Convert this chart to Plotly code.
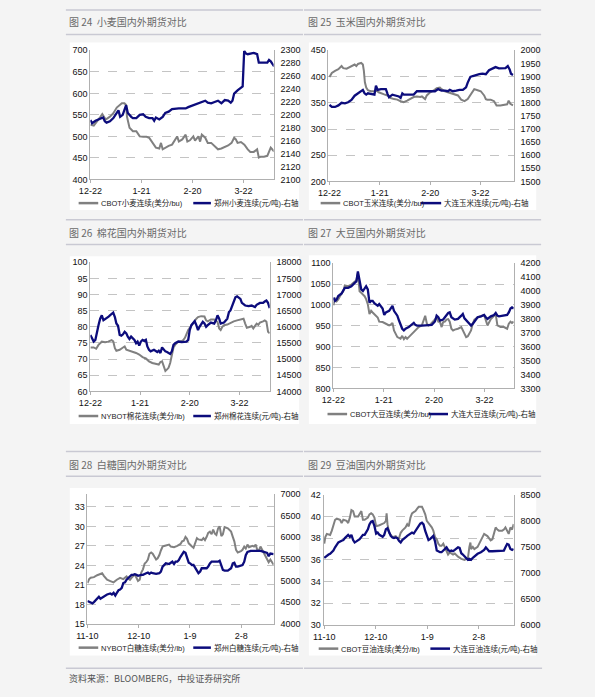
import plotly.graph_objects as go

W, H = 595, 697

# ---------------- data (x = days since first tick date) ----------------
ticks_dec = ["12-22", "1-21", "2-20", "3-22"]
ticks_nov = ["11-10", "12-10", "1-9", "2-8"]
tick_days = [0, 30, 60, 90]

# Fig 24 wheat
wheat_cbot_d = [0,2,6,7,9,11.5,13.5,15.5,18.5,20,21,21.5,23,25,27,29,31,33,34.5,36.5,38.5,40.5,41.5,42.5,44,46,48,50,51,52,54,56,57,58.5,60.5,61.5,63.5,64.5,65.5,67.5,69,71,73,75,77,79,81,83,84.5,85.5,86.5,88.5,90.5,92.5,94,96,98,99,100,102,104,106,107,108]
wheat_cbot = [527,525,546,552,539,546,554,567,577,577,573,546,520,512,512,500,499,499,497,485,474,472,485,470,474,478,481,493,500,488,493,504,488,491,500,490,500,488,504,497,485,485,478,470,472,476,479,485,497,493,485,487,481,470,464,464,470,451,453,453,455,474,470,465]
wheat_zz_d = [0,1,3,6,7.5,8.5,9.5,11.5,13.5,15.5,16.5,17.5,19,21,22,24,25,27,29,31,32.5,34.5,36.5,37.5,38.5,40.5,42.5,44,46,48,50,52,54,56,57.5,59.5,61.5,63.5,65.5,67.5,69,71,73,75,77,79,81,82.5,83.5,84.5,86.5,88.5,89.5,90.4,91.5,92.5,94,96,98,99,102,104,105,106,108]
wheat_zz = [2192,2187,2191,2195,2196,2190,2188,2190,2195,2203,2207,2197,2200,2215,2203,2197,2195,2195,2200,2201,2197,2195,2195,2191,2196,2193,2197,2203,2205,2209,2210,2210,2210,2210,2212,2214,2215,2218,2219,2222,2219,2218,2220,2222,2218,2223,2222,2219,2222,2233,2238,2243,2244,2299,2295,2294,2295,2296,2294,2281,2281,2281,2285,2283,2275]

# Fig 25 corn
corn_cbot_d = [0,1.4,3.3,5.3,7.2,8.2,10.2,12.1,14.1,15,16,17,18.9,19.9,20.5,21.1,21.9,22.9,23.8,24.8,26.8,28.1,29.3,30.7,32.6,34.6,36.5,38.5,40.4,42.4,44.3,46.3,48.2,50.2,52.1,54.1,55.1,57,58,60,61.9,63.9,65.8,66.8,68.8,70.7,72.7,74.6,76.6,78.5,80.5,82.4,84.4,86.3,88.3,90.2,92.2,93.2,94.1,96.1,98.1,99.6,101.9,103.9,105.9,106.8,107.8,109.4]
corn_cbot = [399,407,411,414,420,416,415,418,420,423,420,424,426,423,411,389,379,374,373,372,372,373,370,368,366,364,359,357,356,353,351,354,357,361,362,361,362,357,364,370,373,378,379,376,372,370,368,367,364,356,353,357,367,376,374,372,364,357,356,356,353,345,345,346,347,354,348,345]
corn_dl_d = [0,1.4,3.3,5.3,7.2,9.2,11.1,13.1,15,17,18.9,19.9,20.9,21.9,22.9,24.8,26.8,27.7,28.7,30.7,33.6,34.6,35.5,37.5,39.5,41.4,42.4,43.4,44.3,46.3,50.2,52.1,56.1,60,62.9,64.8,66.8,68.8,70.7,71.7,73.6,75.6,77.5,79.5,81.4,82.4,84,85.4,87.3,89.3,91.2,93.2,95.1,97.1,99,101,102.9,104.9,106.3,107.4,108.2,109.4]
corn_dl = [1792,1784,1784,1790,1800,1798,1802,1811,1827,1836,1846,1849,1836,1831,1836,1834,1831,1865,1849,1852,1852,1834,1821,1831,1827,1824,1819,1836,1831,1831,1831,1844,1844,1844,1844,1852,1846,1846,1844,1849,1844,1846,1849,1849,1859,1877,1899,1902,1906,1909,1911,1909,1924,1931,1936,1931,1932,1932,1940,1927,1911,1906]

# Fig 26 cotton
cotton_ny_d = [0,2,3.5,4.9,6.9,8.9,10.8,12.8,13.8,14.8,15.7,17.7,19.7,20.7,21.7,23.6,25.6,27.6,29.5,31.5,33.5,35.4,37.4,39.4,41.3,42.3,43.3,44.3,45.3,46.3,47.2,48.2,49.2,50.2,51.2,52.2,53.1,55.1,56.1,57.1,58.1,59.1,60,61,62,63,64,65,66.9,68.9,69.9,70.9,72.8,74.8,76.8,77.8,78.7,79.7,80.7,82.7,84.6,86.6,88.6,90.6,92.5,93.5,94.5,96.5,97.4,98.4,99.4,100.4,101.4,102.4,104.3,105.3,106.3,107.3,108.3]
cotton_ny = [73.6,73.6,73.2,74.4,75.4,75.2,75.4,75.9,75.5,73.4,72.6,72.9,73.6,73.9,72.9,72.6,72.2,71.9,71.4,70.6,70.2,69.3,68.8,68.5,68.3,69.1,69.3,67.8,66.3,66.8,67.3,68.8,71.4,73.6,74.4,74.9,75.4,75.6,75.9,76.6,78,79,79.7,80.5,81,81.7,82.5,83,83.3,83.2,82,81.7,82.3,82.3,81.5,79.5,79,80,80.5,80.7,81.3,81.7,82,82.3,82.5,81,79.7,80,80.3,79.5,80.5,81,80.6,81.3,81.7,82,81.6,78.5,78]
cotton_zz_d = [0,1,2,3,3.9,4.9,5.9,6.9,7.9,9.8,10.8,11.8,12.8,13.8,14.8,15.7,16.7,17.7,18.7,19.7,20.7,21.7,22.6,23.6,24.6,25.6,26.6,27.6,28.5,29.5,30.5,31.5,32.5,33.5,34.4,35.4,36.4,38.4,39.4,40.4,41.3,42.3,43.3,44.3,45.3,46.3,47.2,48.2,49.2,50.2,51.2,53.1,55.1,57.1,58.1,59.1,60,61,62,63,64,65,65.9,66.9,67.9,68.9,69.9,70.9,72.8,74.8,75.8,76.8,77.8,78.7,80.7,82.7,83.7,84.6,85.6,86.6,87.6,88.6,89.6,90.6,91.5,93.5,95.5,97.4,99.4,100.4,102.4,104.3,105.3,106.3,107.3,108.3]
cotton_zz = [15747,15625,15544,15595,15848,16051,16254,16356,16203,16254,16305,16356,16406,16437,16305,16102,16031,15747,15727,15767,15848,15798,15696,15625,15696,15645,15595,15493,15544,15422,15544,15595,15565,15595,15391,15290,15239,15290,15260,15219,15260,15188,15361,15290,15239,15219,15188,15158,15239,15442,15493,15544,15524,15524,15544,15595,15899,16051,16132,16173,16051,15899,16000,16102,16153,16102,16000,16051,16132,16102,16203,16356,16254,16102,16132,16254,16457,16508,16660,16812,16914,16944,16914,16863,16741,16660,16640,16660,16609,16680,16741,16741,16782,16812,16741,16579]

# Fig 27 soybean
soy_cbot_d = [0,1,2,2.9,3.9,5.9,6.8,8.8,10.7,12.7,13.7,14.6,15.6,16.6,17.6,18.6,19.5,20.5,21.5,22.5,23.4,24.4,25.4,26.4,27.3,29.3,31.3,33.2,34.2,35.2,36.1,37.1,38.1,39.1,40,41,42,43,43.9,44.9,45.9,46.9,47.9,48.8,49.8,50.8,52.7,54.7,55.7,56.6,57.6,58.6,59.6,60.5,61.5,62.5,63.5,64.5,65.4,66.4,67.4,68.4,69.3,70.3,71.3,72.3,74.2,76.2,78.1,79.1,80.1,81.1,82,83,84,85.9,87.9,89.8,91.8,92.8,93.8,95.7,96.7,97.7,99.6,101.6,103.5,104.5,105.5,106.4,107.4]
soy_cbot = [999,1017,1009,1013,1021,1033,1047,1045,1049,1057,1059,1076,1033,1029,1025,1021,1014,1002,978,986,982,978,974,970,960,959,955,951,953,957,939,931,923,921,919,926,918,923,919,923,927,933,937,939,943,947,951,974,955,951,953,957,960,966,970,960,959,947,959,960,965,966,960,943,939,941,943,947,931,923,925,931,939,955,965,970,974,976,951,957,966,974,978,951,947,947,943,955,960,957,960]
soy_dl_d = [0,1,2,2.9,4.9,5.9,6.8,8.8,10.7,12.7,13.7,14.6,15.6,16.6,17.6,18.6,19.5,20.5,21.5,22.5,23.4,24.4,25.4,26.4,27.3,29.3,30.3,31.3,33.2,34.2,35.2,36.1,37.1,38.1,39.1,40,41,42,43,44.9,46.9,47.9,48.8,49.8,52.7,54.7,56.6,58.6,60.5,61.5,62.5,63.5,65.4,66.4,68.4,69.3,70.3,72.3,74.2,76.2,77.1,78.1,80.1,81.1,82,83,84,85.9,87.9,89.8,90.8,91.8,93.8,95.7,96.7,97.7,98.6,100.6,102.5,103.5,104.5,105.5,106.4,107.4]
soy_dl = [3953,3929,3941,3964,3983,4000,4023,4023,4035,4059,4070,4141,4059,4012,4000,4023,4035,4012,3917,3929,3929,3913,3906,3894,3906,3875,3828,3847,3858,3875,3894,3858,3842,3823,3788,3752,3729,3717,3729,3741,3764,3771,3757,3752,3752,3752,3752,3757,3781,3823,3812,3788,3795,3812,3842,3847,3812,3795,3800,3823,3835,3804,3781,3764,3752,3764,3781,3812,3818,3828,3812,3800,3818,3828,3842,3823,3818,3823,3828,3828,3847,3875,3882,3875]

# Fig 28 sugar
sugar_ny_d = [0,1,1.9,3.8,5.7,6.7,8.6,9.6,11.5,13.4,15.3,17.2,19.1,21,22.9,23.9,24.9,25.8,27.7,28.7,29.6,30.6,31.5,32.5,33.5,34.4,35.4,36.3,37.3,38.2,39.2,40.2,41.1,42.1,43,44,44.9,46.8,47.8,48.8,50.7,52.6,54.5,55.4,56.4,57.4,58.3,59.3,60.2,61.2,62.1,63.1,64.1,65,66.9,67.9,68.8,69.8,70.7,71.7,72.7,73.6,74.6,75.5,76.5,77.4,78.4,79.3,80.3,82.2,84.1,85.1,86,87,88,89.9,90.8,91.8,92.7,93.7,94.6,95.6,96.6,97.5,98.5,99.4,100.4,101.3,102.3,103.3,104.2,105.2,106.1,107.1,108,109]
sugar_ny = [21.3,21.9,22.1,22.2,22.5,22.6,22.8,22.4,21.8,21.6,21.4,21.8,22.1,21.9,22.3,22.0,21.8,22.1,22.6,22.1,21.6,21.8,22.9,23.4,24.3,24.5,24.9,25.8,26.0,25.8,25.3,24.9,25.1,25.6,26.3,26.9,27.0,27.1,27.2,26.9,26.8,27.0,27.3,27.7,27.8,28.4,28.1,27.4,27.1,26.9,26.7,27.4,28.2,28.0,27.9,28.2,27.9,28.4,29.0,29.2,28.8,29.5,28.9,28.7,29.7,30.0,28.5,28.8,29.9,29.7,29.2,28.4,27.7,26.4,26.0,26.2,26.4,26.9,26.6,27.2,26.8,26.9,27.0,26.9,27.2,26.4,26.3,26.9,26.4,26.0,25.6,24.9,24.5,24.9,24.4,24.1]
sugar_zz_d = [0,1.9,2.9,3.8,4.8,5.7,6.7,7.6,8.6,9.6,10.5,11.5,13.4,14.3,15.3,16.3,17.2,18.2,19.1,20.1,21,22,22.9,23.9,24.9,25.8,26.8,27.7,28.7,29.6,31.5,32.5,34.4,35.4,36.3,37.3,38.2,40.2,42.1,43,44,44.9,45.9,47.8,48.8,49.7,50.7,51.6,52.6,53.5,54.5,55.4,56.4,57.4,58.3,59.3,60.2,61.2,62.1,63.1,64.1,65,66,66.9,68.8,69.8,70.7,71.7,72.7,74.6,76.5,77.4,78.4,79.3,80.3,82.2,84.1,85.1,86,87,88,89.9,90.8,91.8,92.7,93.7,95.6,97.5,99.4,101.3,103.3,105.2,106.1,107.1,109]
sugar_zz = [4529,4506,4476,4506,4552,4605,4627,4582,4605,4642,4657,4680,4703,4680,4718,4657,4718,4778,4793,4831,4945,4960,5020,5058,5096,5134,5134,5149,5134,5111,5134,5134,5171,5186,5156,5186,5171,5156,5171,5209,5322,5360,5398,5383,5413,5436,5383,5436,5436,5474,5549,5610,5663,5640,5549,5413,5398,5360,5360,5307,5232,5171,5209,5285,5285,5285,5322,5398,5436,5436,5436,5459,5360,5247,5232,5232,5285,5398,5413,5322,5322,5338,5360,5436,5587,5663,5685,5685,5685,5685,5663,5640,5564,5625,5610]

# Fig 29 soybean oil
oil_cbot_d = [0,0.6,1.5,3.4,4.4,5.3,6.3,7.3,9.2,10.1,11.1,13,13.9,14.9,15.8,16.8,17.7,19.7,20.6,21.6,22.5,23.5,25.4,26.3,27.3,28.2,29.2,30.2,32.1,34,34.9,35.9,36.3,36.8,37.8,38.7,39.7,41.6,42.6,43.5,44.5,45.4,47.3,48.3,49.2,50.2,51.1,52.1,53.1,54,55,55.9,56.9,57.8,58.8,59.7,60.7,61.6,62.6,63.5,64.5,65.5,66.4,67.4,68.3,69.3,70.2,71.2,72.1,73.1,74,75,76,77.9,79.8,81.7,82.6,83.6,84.5,85.1,85.5,86.5,87.4,89.3,91.2,92.2,93.1,95,96,96.9,97.9,98.9,99.8,100.8,101.7,103.6,104.6,105.5,106.5,107.4,108.4,109.4,110.3]
oil_cbot = [37.5,38.1,38.4,38.3,38.7,39.1,39.7,39.8,39.7,39.4,39.7,39.6,39.4,39.9,40.6,40.5,40.0,40.0,40.2,40.5,39.7,39.7,39.9,40.2,40.3,40.2,39.9,39.1,39.2,39.3,39.4,39.6,40.3,39.3,38.5,38.3,38.1,38.2,38.0,38.0,38.5,38.7,39.0,39.3,39.1,39.9,40.3,40.4,40.5,40.7,40.9,40.9,40.9,40.6,40.2,39.6,39.4,39.2,39.0,38.7,38.1,37.9,37.5,37.3,37.3,37.5,37.2,36.9,36.5,36.7,36.6,36.5,36.6,36.3,36.1,36.0,36.1,36.1,37.2,37.6,37.0,37.2,37.0,37.2,37.8,38.2,38.4,38.2,38.0,37.8,37.9,38.5,39.0,38.8,38.7,38.7,38.8,39.0,38.7,38.4,39.0,38.8,39.3]
oil_dl_d = [0,1.5,2.5,3.4,5.3,6.3,7.3,8.2,10.1,11.1,12,13,13.9,14.9,15.8,16.8,17.7,18.7,19.7,20.6,21.6,22.5,23.5,24.4,25.4,26.3,27.3,28.2,29.2,30.2,31.1,32.1,33,34,34.9,35.9,36.8,37.8,38.7,39.7,40.6,41.6,42.6,43.5,44.5,45.4,46.4,47.3,48.3,49.2,51.1,52.1,53.1,54,55,55.9,56.9,57.8,58.8,59.7,60.7,61.6,62.6,63.5,64.5,65.5,66.4,67.4,68.3,69.3,70.2,71.2,72.1,73.1,74,75,76,76.9,77.9,78.8,79.8,80.7,81.7,82.6,83.6,84.5,85.5,86.5,87.4,89.3,91.2,93.1,94.1,95,96,97.9,100.8,103.6,104.6,105.5,106.5,107.4,108.4,109.4,110.3]
oil_dl = [7291,7335,7354,7367,7430,7492,7555,7587,7618,7631,7669,7694,7732,7694,7732,7631,7587,7606,7631,7650,7694,7732,7732,7776,7839,7933,7984,7996,7902,7757,7776,7732,7713,7694,7732,7839,7858,7776,7713,7681,7669,7681,7669,7618,7587,7631,7650,7681,7713,7732,7776,7757,7807,7858,7902,7946,7965,7933,7807,7713,7631,7650,7694,7713,7606,7430,7417,7398,7398,7430,7461,7492,7442,7417,7430,7417,7442,7461,7492,7480,7379,7354,7316,7272,7253,7272,7253,7291,7316,7367,7398,7442,7492,7461,7417,7417,7417,7417,7430,7492,7555,7543,7461,7442,7461]

titles = ["图 24  小麦国内外期货对比", "图 25  玉米国内外期货对比", "图 26  棉花国内外期货对比",
          "图 27  大豆国内外期货对比", "图 28  白糖国内外期货对比", "图 29  豆油国内外期货对比"]
names_gray = ["CBOT小麦连续(美分/bu)", "CBOT玉米连续(美分/bu)", "NYBOT棉花连续(美分/lb)",
              "CBOT大豆连续(美分/bu)", "NYBOT白糖连续(美分/lb)", "CBOT豆油连续(美分/lb)"]
names_navy = ["郑州小麦连续(元/吨)-右轴", "大连玉米连续(元/吨)-右轴", "郑州棉花连续(元/吨)-右轴",
              "大连大豆连续(元/吨)-右轴", "郑州白糖连续(元/吨)-右轴", "大连豆油连续(元/吨)-右轴"]
source_text = "资料来源：BLOOMBERG，中投证券研究所"

series = [
    (wheat_cbot_d, wheat_cbot, wheat_zz_d, wheat_zz),
    (corn_cbot_d, corn_cbot, corn_dl_d, corn_dl),
    (cotton_ny_d, cotton_ny, cotton_zz_d, cotton_zz),
    (soy_cbot_d, soy_cbot, soy_dl_d, soy_dl),
    (sugar_ny_d, sugar_ny, sugar_zz_d, sugar_zz),
    (oil_cbot_d, oil_cbot, oil_dl_d, oil_dl),
]

# ---------------- layout geometry (pixels) ----------------
panels = [
    dict(x0=80, x1=267, yt=46, yb=177, xr=[0, 107.7], l=[400, 700], ldt=50, r=[2100, 2300], rdt=20, tt=ticks_dec),
    dict(x0=323, x1=512, yt=46, yb=179, xr=[-0.6, 109.8], l=[200, 450], ldt=50, r=[1500, 2000], rdt=50, tt=ticks_dec),
    dict(x0=80, x1=263, yt=261, yb=392, xr=[0, 108.3], l=[60, 100], ldt=5, r=[14000, 18000], rdt=500, tt=ticks_dec),
    dict(x0=328, x1=512, yt=262, yb=389, xr=[0, 107.4], l=[800, 1100], ldt=50, r=[3300, 4200], rdt=100, tt=ticks_dec),
    dict(x0=77, x1=267, yt=496, yb=628, xr=[0, 109], l=[15, 35], ldt=3, r=[4000, 7000], rdt=500, tt=ticks_nov),
    dict(x0=318, x1=512, yt=497, yb=629, xr=[-0.4, 110.3], l=[30, 42], ldt=2, r=[6000, 8500], rdt=500, tt=ticks_nov),
]
boxes = [(59, 293, 38, 208), (303, 535, 38, 208), (59, 293, 255, 425),
         (303, 535, 254, 425), (59, 293, 490, 660), (303, 535, 490, 660)]
title_pos = [(56, 17), (300, 17), (56, 231), (300, 231), (56, 466), (300, 466)]
sep_lines = [(5, 30), (218, 243), (453, 478)]
legend_pos = [
    (68, 88, 185, 203, 201), (315, 335, 417, 438, 201),
    (68, 88, 185, 203, 417), (322, 342, 425, 445, 415),
    (68, 88, 185, 203, 652), (313, 333, 427, 447, 653),
]

GRAY = "#808080"
NAVY = "#0c0c7c"
AXC = "#b0b0b0"
FONT = "Liberation Sans, Arial, Noto Sans CJK SC, sans-serif"


def px(x):
    return x / W


def py(y):
    return 1 - y / H


fig = go.Figure()
shapes = []
annotations = []
layout = {}

for i, (p, (gd, gv, nd, nv)) in enumerate(zip(panels, series)):
    k = i + 1
    xa = "xaxis" if k == 1 else f"xaxis{k}"
    xref = "x" if k == 1 else f"x{k}"
    yl = 2 * k - 1
    yr = 2 * k
    yla = "yaxis" if yl == 1 else f"yaxis{yl}"
    ylref = "y" if yl == 1 else f"y{yl}"
    yra = f"yaxis{yr}"
    yrref = f"y{yr}"
    xdom = [px(p["x0"]), px(p["x1"])]
    ydom = [py(p["yb"]), py(p["yt"])]

    layout[xa] = dict(domain=xdom, anchor=ylref, range=p["xr"], tickvals=tick_days, ticktext=p["tt"],
                      showline=True, linecolor=AXC, linewidth=1, ticks="outside", ticklen=3,
                      tickcolor=AXC, showgrid=False, zeroline=False,
                      tickfont=dict(size=9, color="#111", family=FONT))
    layout[yla] = dict(domain=ydom, anchor=xref, range=p["l"], dtick=p["ldt"], tick0=p["l"][0],
                       showline=True, linecolor=AXC, linewidth=1, ticks="",
                       showgrid=True, gridcolor="#c4c4c4", griddash="dash", gridwidth=1,
                       zeroline=False, tickformat="d", tickfont=dict(size=9, color="#111", family=FONT))
    layout[yra] = dict(overlaying=ylref, anchor=xref, side="right", range=p["r"], dtick=p["rdt"],
                       tick0=p["r"][0], showline=True, linecolor=AXC, linewidth=1, ticks="outside",
                       ticklen=4, tickcolor="rgba(0,0,0,0)", showgrid=False, zeroline=False,
                       tickformat="d", tickfont=dict(size=9, color="#111", family=FONT))

    fig.add_trace(go.Scatter(x=gd, y=gv, mode="lines", line=dict(color=GRAY, width=2),
                             xaxis=xref, yaxis=ylref, showlegend=False, name=names_gray[i]))
    fig.add_trace(go.Scatter(x=nd, y=nv, mode="lines", line=dict(color=NAVY, width=2.3),
                             xaxis=xref, yaxis=yrref, showlegend=False, name=names_navy[i]))

    # white panel box
    bx0, bx1, by0, by1 = boxes[i]
    shapes.append(dict(type="rect", xref="paper", yref="paper", x0=px(bx0), x1=px(bx1),
                       y0=py(by1), y1=py(by0), fillcolor="white", line=dict(width=0), layer="below"))
    # title
    tx, ty = title_pos[i]
    annotations.append(dict(text=titles[i], x=px(tx), y=py(ty), xref="paper", yref="paper",
                            xanchor="left", yanchor="middle", showarrow=False,
                            font=dict(size=10, color="#6a6a6a", family="Noto Sans CJK SC")))
    # legend
    g0, g1, n0, n1, ly = legend_pos[i]
    shapes.append(dict(type="line", xref="paper", yref="paper", x0=px(g0), x1=px(g1),
                       y0=py(ly), y1=py(ly), line=dict(color=GRAY, width=2.5)))
    shapes.append(dict(type="line", xref="paper", yref="paper", x0=px(n0), x1=px(n1),
                       y0=py(ly), y1=py(ly), line=dict(color=NAVY, width=2.5)))
    annotations.append(dict(text=names_gray[i], x=px(g1 + 1), y=py(ly), xref="paper", yref="paper",
                            xanchor="left", yanchor="middle", showarrow=False,
                            font=dict(size=7.5, color="#222", family=FONT)))
    annotations.append(dict(text=names_navy[i], x=px(n1 + 1), y=py(ly), xref="paper", yref="paper",
                            xanchor="left", yanchor="middle", showarrow=False,
                            font=dict(size=7.5, color="#222", family=FONT)))

# separator lines
for (a, b) in sep_lines:
    for (sx0, sx1) in [(55, 297), (298, 540)]:
        for yy in (a, b):
            shapes.append(dict(type="line", xref="paper", yref="paper", x0=px(sx0), x1=px(sx1),
                               y0=py(yy), y1=py(yy), line=dict(color="#c9c9d3", width=1.5)))
for (sx0, sx1) in [(55, 297), (298, 541)]:
    shapes.append(dict(type="line", xref="paper", yref="paper", x0=px(sx0), x1=px(sx1),
                       y0=py(673), y1=py(673), line=dict(color="#c9c9d3", width=1.5)))
annotations.append(dict(text=source_text, x=px(56), y=py(683), xref="paper", yref="paper",
                        xanchor="left", yanchor="middle", showarrow=False,
                        font=dict(size=9, color="#555", family="Noto Sans CJK SC")))

fig.update_layout(width=W, height=H, autosize=False, margin=dict(l=0, r=0, t=0, b=0),
                  paper_bgcolor="#f4f4f4", plot_bgcolor="rgba(0,0,0,0)",
                  shapes=shapes, annotations=annotations, showlegend=False, **layout)

fig.write_html("out.html", config={"displayModeBar": False},
               post_script="document.body.style.margin='0';document.body.style.padding='0';"
                           "document.body.style.overflow='hidden';document.documentElement.style.overflow='hidden';")
